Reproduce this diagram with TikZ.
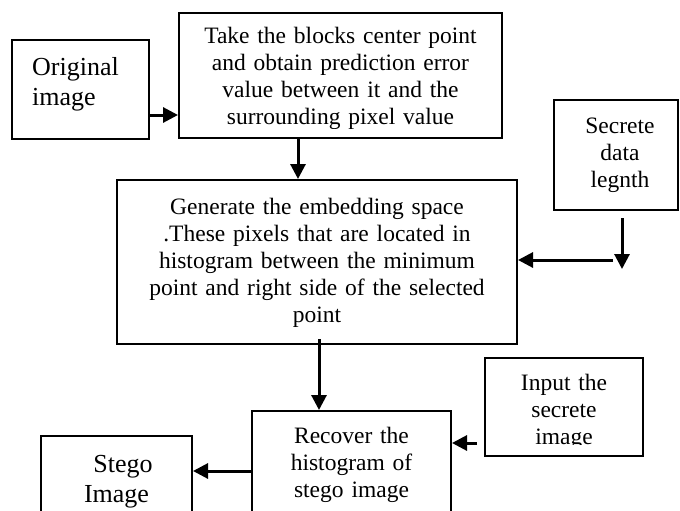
\documentclass[tikz,border=0pt]{standalone}
\usepackage{fontspec}
\setmainfont{Liberation Serif}
\usetikzlibrary{arrows.meta, positioning, calc}

\begin{document}
\begin{tikzpicture}[
    x=1pt, y=-1pt,
    blockbox/.style={draw, line width=2pt, rectangle, inner sep=0pt},
    blocktext/.style={inner sep=0pt, anchor=base, align=center, font=\fontsize{23.5}{27}\selectfont},
    bigtext/.style={inner sep=0pt, align=center, font=\fontsize{26}{30}\selectfont},
    flow/.style={line width=3pt, -{Triangle[length=15pt, width=15pt]}}
  ]
  \clip (0,0) rectangle (680,511);

  % blocks
  \node[blockbox, minimum width=137pt, minimum height=99pt] (orig) at (80.5,89.5) {};
  \node[blockbox, minimum width=323pt, minimum height=125pt] (take) at (340.5,75.5) {};
  \node[blockbox, minimum width=124pt, minimum height=110pt] (sec) at (616,155) {};
  \node[blockbox, minimum width=400pt, minimum height=164pt] (gen) at (317,262) {};
  \node[blockbox, minimum width=158pt, minimum height=98pt] (inp) at (564,407) {};
  \node[blockbox, minimum width=199pt, minimum height=120pt] (rec) at (351.5,471) {};
  \node[blockbox, minimum width=151pt, minimum height=100pt] (stego) at (116.5,486) {};

  % texts
  \node[bigtext, anchor=base west, align=left, text width=110pt] (orig-t) at (32,75) {Original\\image};
  \begin{scope}
    \clip (181,15) rectangle (500,128);
    \node[blocktext, text width=310pt] (take-t) at (340.5,44)
      {Take the blocks center point\\and obtain prediction error\\value between it and the\\surrounding pixel value};
  \end{scope}
  \node[blocktext, text width=110pt] (sec-t) at (620,133) {Secrete\\data\\legnth};
  \node[blocktext, text width=390pt] (gen-t) at (317,214)
    {Generate the embedding space\\.These pixels that are located in\\histogram between the minimum\\point and right side of the selected\\point};
  \begin{scope}
    \clip (487,360) rectangle (641,444);
    \node[blocktext, text width=150pt] (inp-t) at (564,390) {Input the\\secrete\\image};
  \end{scope}
  \node[blocktext, text width=190pt] (rec-t) at (351.5,443) {Recover the\\histogram of\\stego image};
  \node[bigtext, anchor=base, text width=140pt] (stego-t) at (116.5,472) {\hspace*{13pt}Stego\\Image};

  % connectors
  \coordinate (o1) at ([yshift=-25.5pt]orig.east);
  \draw[flow] (o1) -- (o1 -| take.west);
  \coordinate (t1) at ([xshift=-42.5pt]take.south);
  \draw[flow] (t1) -- (t1 |- gen.north);
  \coordinate (s1) at ([xshift=6pt, yshift=-7pt]sec.south);
  \coordinate (s2) at ([xshift=6pt, yshift=-58pt]sec.south);
  \draw[flow] (s1) -- (s2);
  \coordinate (s3) at ([xshift=-3pt, yshift=-49pt]sec.south);
  \draw[flow] (s3) -- (s3 -| gen.east);
  \coordinate (g1) at ([xshift=2pt, yshift=6pt]gen.south);
  \draw[flow] (g1) -- (g1 |- rec.north);
  \coordinate (i1) at ([xshift=-7pt, yshift=-36pt]inp.west);
  \draw[flow] (i1) -- (i1 -| rec.east);
  \draw[flow] (rec.west) -- (rec.west -| stego.east);
\end{tikzpicture}
\end{document}
